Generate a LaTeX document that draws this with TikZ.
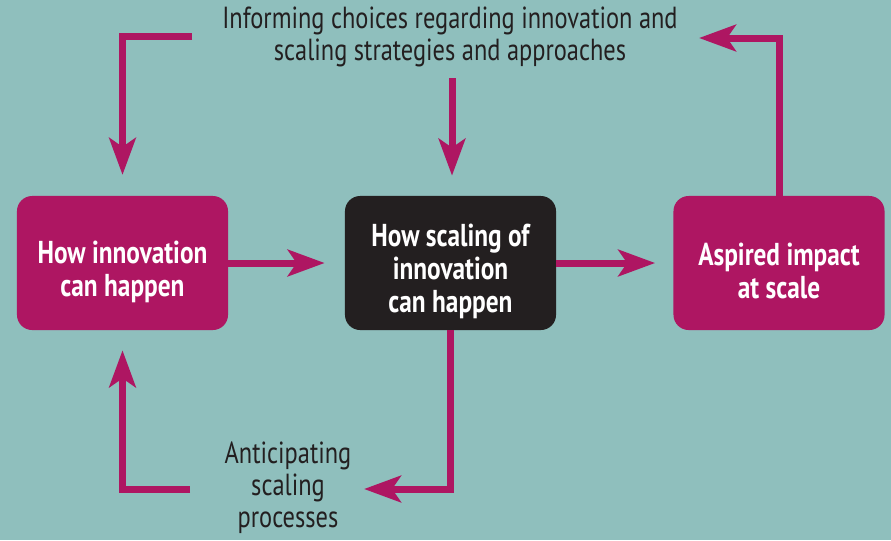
\documentclass[tikz,border=0pt]{standalone}
\usepackage{fontspec}
\setmainfont{PT Sans}[FakeStretch=0.8]
\usetikzlibrary{arrows.meta}
\usetikzlibrary{positioning}
\definecolor{bgteal}{HTML}{8FBFBD}
\definecolor{scalered}{HTML}{AE1662}
\definecolor{boxblack}{HTML}{231F20}
\newcommand{\lift}{\rule{0pt}{28pt}}
\tikzset{
    box/.style={rounded corners=0.38cm, minimum width=5.275cm, minimum height=3.35cm,
        inner sep=0pt, text=white, align=center, font=\bfseries\fontsize{22.5}{23.5}\selectfont},
    flow/.style={line width=0.175cm, draw=scalered,
        -{Stealth[length=0.92cm,width=0.66cm,inset=0.22cm]}},
    note/.style={text=boxblack, align=center, font=\fontsize{21.7}{22.8}\selectfont}
}

\begin{document}
\begin{tikzpicture}[x=0.025cm,y=-0.025cm]
    \fill[bgteal] (0,0) rectangle (891,540);
    \useasboundingbox (0,0) rectangle (891,540);

    % the three stages
    \node[box,fill=scalered] (inno) at (122.5,263) {\lift How innovation\\can happen};
    \node[box,fill=boxblack] (scal) at (450.5,263) {\lift How scaling of\\innovation\\can happen};
    \node[box,fill=scalered] (impact) at (779,263) {\lift Aspired impact\\at scale};

    % notes
    \node[note] (inform) at (450,37) {Informing choices regarding innovation and\\scaling strategies and approaches};
    \node[note] (antic) at (288,488) {Anticipating\\scaling\\processes};

    \coordinate (tl) at (192,36);
    \coordinate (tm) at (452,78);
    \coordinate (tr) at (699,38);
    \coordinate (br) at (364,489);
    \coordinate (bl) at (190,489);

    \draw[flow,shorten >=0.5cm] (inno.east) -- (scal.west);
    \draw[flow,shorten >=0.45cm] (scal.east) -- (impact.west);
    \draw[flow,shorten >=0.52cm] (tl) -| (inno.north);
    \draw[flow,shorten >=0.5cm] (tm) -- (tm |- scal.north);
    \draw[flow] (impact.north) |- (tr);
    \draw[flow] (scal.south) |- (br);
    \draw[flow,shorten >=0.5cm] (bl) -| (inno.south);
\end{tikzpicture}
\end{document}
